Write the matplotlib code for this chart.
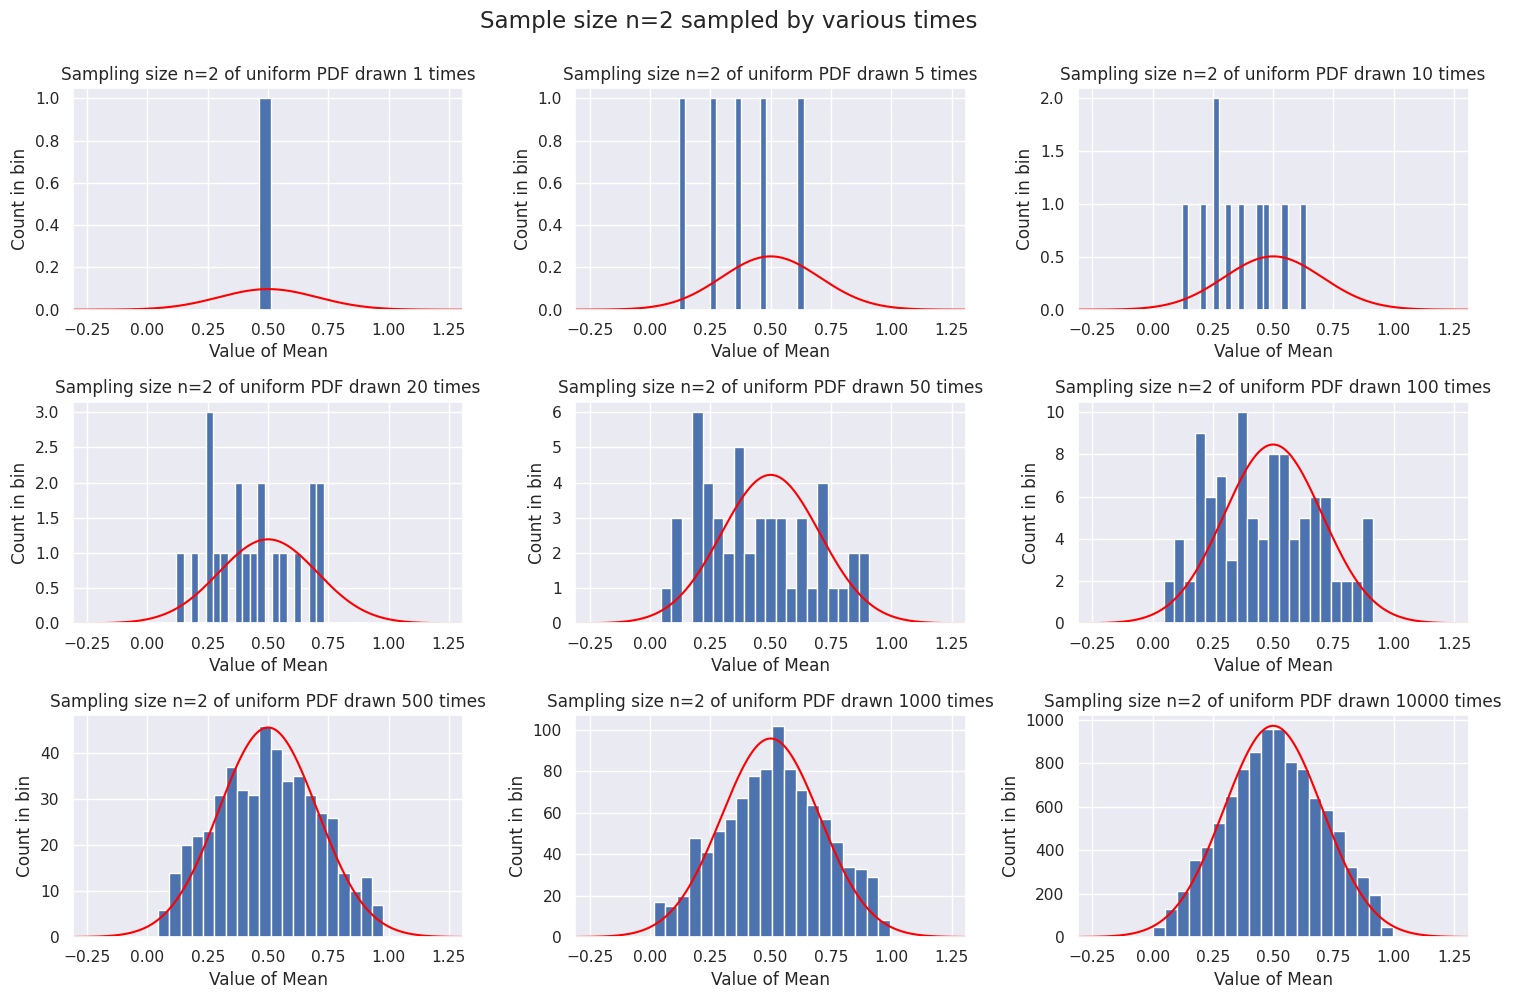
"""
Histograms of sample means (n=2, uniform PDF) for different numbers of draws
"""

import numpy as np
import matplotlib
matplotlib.use('Agg')  # no display
import matplotlib.pyplot as plt
import seaborn as sns

# number of times the n=2 sample was drawn, one panel each
draws = [1, 5, 10, 20, 50, 100, 500, 1000, 10000]

# histogram range of each panel (20 bins between lo and hi)
bin_lo = [-0.037, 0.120, 0.120, 0.119, 0.0456, 0.0455, 0.044, 0.015, 0.002]
bin_hi = [0.963, 0.637, 0.637, 0.730, 0.909, 0.912, 0.978, 0.996, 0.997]

# counts per bin
counts_1 = [0, 0, 0, 0, 0, 0, 0, 0, 0, 0, 1, 0, 0, 0, 0, 0, 0, 0, 0, 0]
counts_5 = [1, 0, 0, 0, 0, 1, 0, 0, 0, 1, 0, 0, 0, 1, 0, 0, 0, 0, 0, 1]
counts_10 = [1, 0, 0, 1, 0, 2, 0, 1, 0, 1, 0, 0, 1, 1, 0, 0, 1, 0, 0, 1]
counts_20 = [1, 0, 1, 0, 3, 1, 1, 0, 2, 1, 1, 2, 0, 1, 1, 0, 1, 0, 2, 2]
counts_50 = [1, 3, 0, 6, 4, 3, 2, 5, 2, 3, 3, 3, 1, 3, 1, 4, 1, 1, 2, 2]
counts_100 = [2, 4, 2, 9, 6, 7, 3, 10, 5, 4, 8, 8, 4, 5, 6, 6, 2, 2, 2, 5]
counts_500 = [6, 14, 20, 22, 23, 31, 37, 32, 31, 46,
              41, 34, 35, 31, 27, 26, 14, 10, 13, 7]
counts_1000 = [17, 15, 20, 48, 41, 51, 57, 67, 78, 81,
               102, 81, 71, 64, 57, 46, 34, 33, 29, 8]
counts_10000 = [46, 130, 210, 356, 416, 524, 647, 773, 850, 957,
                957, 804, 773, 638, 587, 487, 324, 275, 195, 46]
all_counts = [counts_1, counts_5, counts_10, counts_20, counts_50,
              counts_100, counts_500, counts_1000, counts_10000]

n_bins = 20
sample_size = 2
mu = 0.5
sigma = np.sqrt(1.0 / 12 / sample_size)  # std of the mean of n uniforms


def normal_pdf(x):
    return np.exp(-0.5 * ((x - mu) / sigma) ** 2) / (sigma * np.sqrt(2 * np.pi))


sns.set_theme()
plt.rcParams['font.family'] = ['DejaVu Sans']
plt.rcParams['axes.titlesize'] = 12.15
plt.rcParams['axes.labelsize'] = 12.2
plt.rcParams['xtick.labelsize'] = 11.2
plt.rcParams['ytick.labelsize'] = 11.2

fig, axes = plt.subplots(3, 3, figsize=(15.14, 9.99), dpi=100)
fig.subplots_adjust(left=0.048, right=0.970, top=0.912, bottom=0.062,
                    wspace=0.286, hspace=0.414)

x_curve = np.linspace(-0.31, 1.31, 400)

for ax, n_draw, lo, hi, counts in zip(axes.flat, draws, bin_lo, bin_hi, all_counts):
    edges = np.linspace(lo, hi, n_bins + 1)
    ax.hist(edges[:-1], bins=edges, weights=counts, color='#4C72B0')

    bin_width = (hi - lo) / n_bins
    ax.plot(x_curve, n_draw * bin_width * normal_pdf(x_curve), color='red', lw=1.5)

    ax.set_xlim(-0.31, 1.31)
    ax.set_title(f'Sampling size n={sample_size} of uniform PDF drawn {n_draw} times')
    ax.set_xlabel('Value of Mean')
    ax.set_ylabel('Count in bin')

fig.suptitle('Sample size n=2 sampled by various times', fontsize=16.6,
             x=0.481, y=0.990)

plt.savefig('out.png', dpi=100)
plt.close()
